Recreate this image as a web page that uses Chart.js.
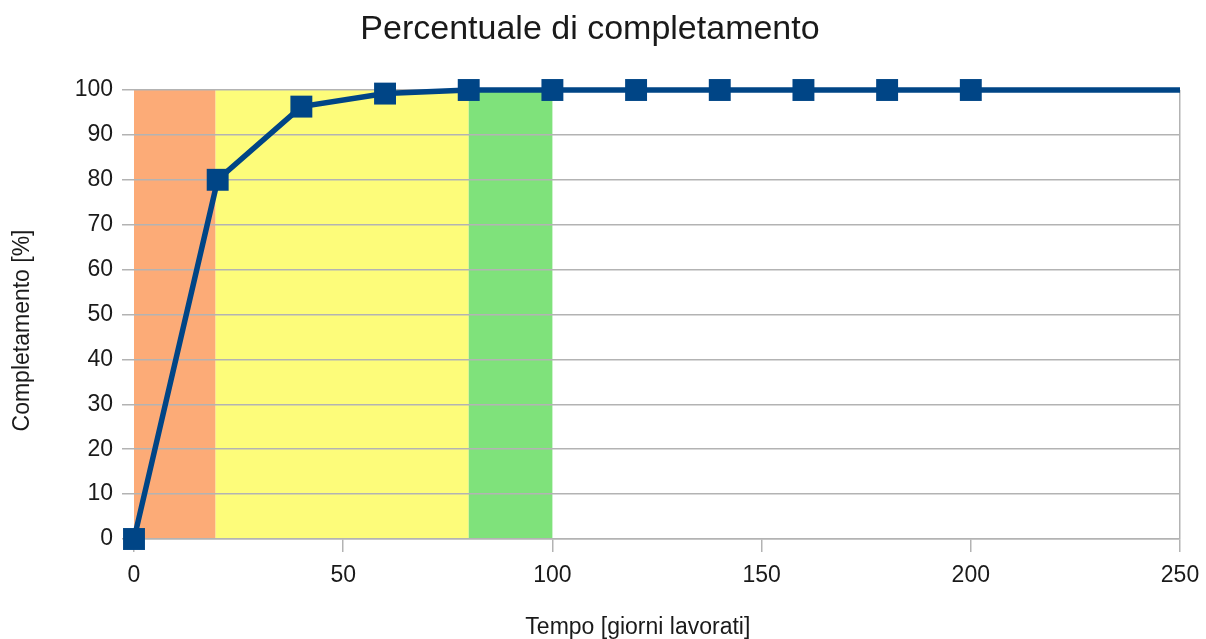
<!DOCTYPE html>
<html>
<head>
<meta charset="utf-8">
<script src="https://cdn.jsdelivr.net/npm/chart.js@4/dist/chart.umd.min.js"></script>
<style>
  html, body { margin: 0; padding: 0; background: #ffffff; }
  #wrap { width: 1206px; height: 639px; }
</style>
</head>
<body>
<div id="wrap"><canvas id="c" width="1206" height="639"></canvas></div>
<script>
// Giorni lavorati e percentuale di completamento
const days = [0, 20, 40, 60, 80, 100, 120, 140, 160, 180, 200, 250];
const completion = [0, 80, 96.3, 99.2, 100, 100, 100, 100, 100, 100, 100, 100];
// The final point only carries the line to the end of the axis
const pointSizes = [15.5, 15.5, 15.5, 15.5, 15.5, 15.5, 15.5, 15.5, 15.5, 15.5, 15.5, 0];

// Coloured phases behind the curve
const phaseStart = [0, 19.5, 80];
const phaseEnd = [19.5, 80, 100];
const phaseColors = ['#fcab77', '#fdfc7a', '#7fe27b'];
const phaseTop = 100;

const xTicks = [0, 50, 100, 150, 200, 250];

const FONT = "'Liberation Sans', Arial, sans-serif";
const GRID = '#b3b3b3';
const TEXT = '#1a1a1a';

const phasesPlugin = {
  id: 'phases',
  beforeDraw(chart) {
    const ctx = chart.ctx;
    const x = chart.scales.x, y = chart.scales.y;
    ctx.save();
    ctx.fillStyle = '#ffffff';
    ctx.fillRect(0, 0, chart.width, chart.height);
    const top = y.getPixelForValue(phaseTop);
    const bottom = y.getPixelForValue(0);
    phaseStart.forEach((s, i) => {
      const l = x.getPixelForValue(s);
      const r = x.getPixelForValue(phaseEnd[i]);
      ctx.fillStyle = phaseColors[i];
      ctx.fillRect(l, top, r - l, bottom - top);
    });
    ctx.restore();
  }
};

new Chart(document.getElementById('c'), {
  type: 'line',
  data: {
    datasets: [{
      data: days.map((d, i) => ({ x: d, y: completion[i] })),
      borderColor: '#004586',
      backgroundColor: '#004586',
      borderWidth: 5.5,
      pointStyle: 'rect',
      pointRadius: pointSizes,
      pointHoverRadius: pointSizes,
      pointBorderWidth: 0,
      tension: 0,
      clip: false
    }]
  },
  options: {
    responsive: false,
    animation: false,
    events: [],
    layout: { padding: { left: 0, right: 26, top: 0, bottom: 0 } },
    plugins: {
      legend: { display: false },
      tooltip: { enabled: false },
      title: {
        display: true,
        text: 'Percentuale di completamento',
        color: TEXT,
        font: { family: FONT, size: 34, weight: 'normal', lineHeight: 1.2 },
        padding: { top: 9, bottom: 40.2 }
      }
    },
    scales: {
      x: {
        type: 'linear',
        min: 0,
        max: 250,
        afterBuildTicks(scale) { scale.ticks = xTicks.map(v => ({ value: v })); },
        afterFit(scale) {
          scale.height = 100;
          scale.paddingLeft = 0;
          scale.paddingRight = 0;
        },
        ticks: {
          color: TEXT,
          font: { family: FONT, size: 23 },
          padding: 10,
          maxRotation: 0
        },
        grid: {
          color: c => (c.tick && c.tick.value === 250 ? GRID : 'rgba(0,0,0,0)'),
          tickColor: GRID,
          tickLength: 13,
          lineWidth: 1.5
        },
        border: { display: true, color: GRID, width: 1.5 },
        title: {
          display: true,
          text: 'Tempo [giorni lavorati]      ',
          color: TEXT,
          font: { family: FONT, size: 23, lineHeight: 1 },
          padding: { top: 0, bottom: 0 }
        }
      },
      y: {
        min: 0,
        max: 100,
        afterFit(scale) { scale.width = 134; },
        ticks: {
          stepSize: 10,
          color: TEXT,
          font: { family: FONT, size: 23 },
          padding: 9
        },
        grid: {
          color: GRID,
          tickColor: GRID,
          tickLength: 12,
          lineWidth: 1.5
        },
        border: { display: false },
        title: {
          display: true,
          text: 'Completamento [%]     ',
          color: TEXT,
          font: { family: FONT, size: 23, lineHeight: 1.2 },
          padding: { top: 9, bottom: 0 }
        }
      }
    }
  },
  plugins: [phasesPlugin]
});
</script>
</body>
</html>
